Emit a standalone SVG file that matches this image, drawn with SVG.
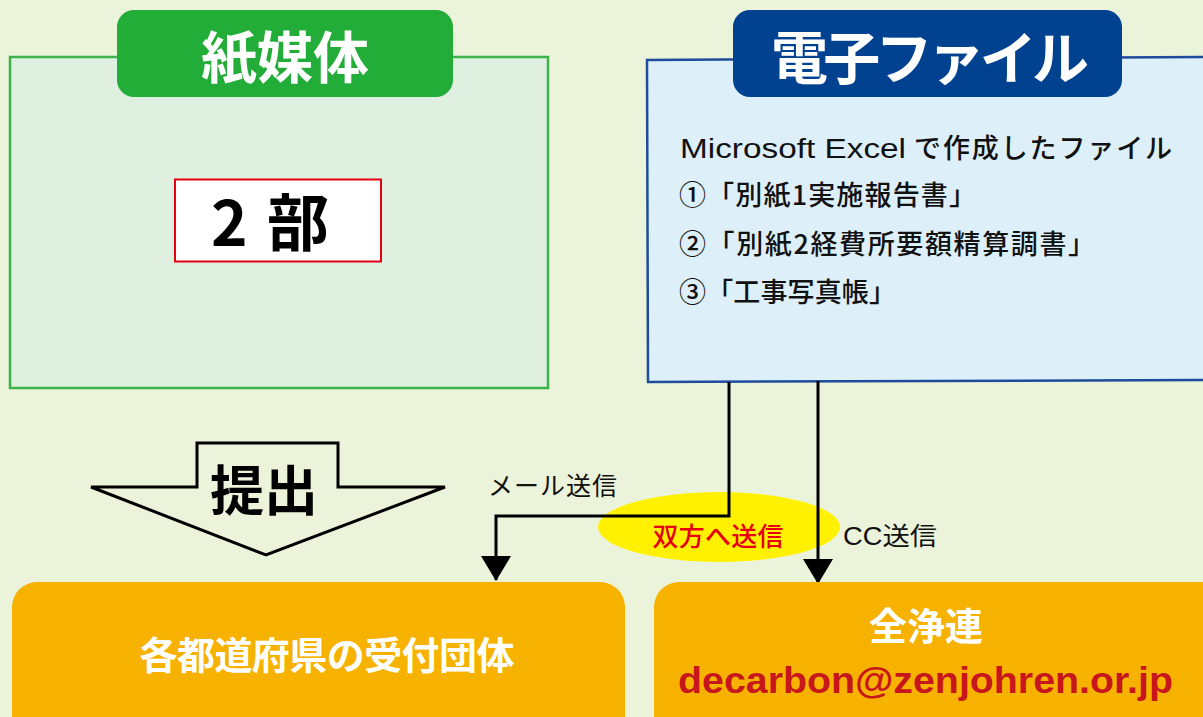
<svg xmlns="http://www.w3.org/2000/svg" width="1203" height="717" viewBox="0 0 1203 717">
<defs>
<style>
.jp{font-family:"Noto Sans CJK JP","Noto Sans CJK SC",sans-serif}
.lat{font-family:"Liberation Sans","Noto Sans CJK JP",sans-serif}
.wb{fill:#ffffff;font-weight:bold}
.item{font-size:27px;fill:#111111;font-weight:500}
.lbl{font-size:25px;fill:#111111}
.conn{fill:none;stroke:#000000;stroke-width:3}
</style>
<marker id="arr" viewBox="0 0 25 30" refX="24" refY="15" markerWidth="25" markerHeight="30" markerUnits="userSpaceOnUse" orient="auto">
<path d="M0,0 L25,15 L0,30 Z" fill="#000000"/>
</marker>
</defs>
<rect x="0" y="0" width="1203" height="717" fill="#EBF4DA"/>

<g id="paper">
<rect x="10" y="57" width="538" height="331" fill="#DFEFE0" stroke="#3BB34A" stroke-width="2.5"/>
<rect x="117" y="10" width="336" height="87" rx="17" fill="#22AC38"/>
<text class="jp wb" x="285" y="78" font-size="56" text-anchor="middle">紙媒体</text>
<rect x="175" y="179.5" width="206" height="82" fill="#ffffff" stroke="#E60012" stroke-width="2"/>
<text class="jp" x="270" y="246" font-size="62" font-weight="bold" text-anchor="middle" fill="#000000" textLength="118" lengthAdjust="spacing">2 部</text>
</g>

<g id="electronic">
<polygon points="647,60 1205,57 1205,380 648,382" fill="#DDEFF9" stroke="#1E4C9A" stroke-width="2.5"/>
<rect x="733" y="10" width="389" height="87" rx="17" fill="#004190"/>
<text class="jp wb" x="930" y="79" font-size="57" text-anchor="middle" textLength="318" lengthAdjust="spacing">電子ファイル</text>
<text class="lat item" x="680" y="158" font-size="28" textLength="226" lengthAdjust="spacingAndGlyphs">Microsoft Excel</text>
<text class="jp item" x="914" y="158" textLength="258" lengthAdjust="spacing">で作成したファイル</text>
<text class="jp item" x="679" y="205" textLength="297" lengthAdjust="spacing">①「別紙1実施報告書」</text>
<text class="jp item" x="679" y="254" textLength="416" lengthAdjust="spacing">②「別紙2経費所要額精算調書」</text>
<text class="jp item" x="679" y="302" textLength="217" lengthAdjust="spacing">③「工事写真帳」</text>
</g>

<g id="submit">
<polygon points="91,487 197,487 197,443 338,443 338,487 445,487 266,555" fill="none" stroke="#000000" stroke-width="3" stroke-linejoin="miter"/>
<text class="jp" x="264" y="511" font-size="54" font-weight="bold" text-anchor="middle" fill="#000000">提出</text>
</g>

<g id="both-label">
<ellipse cx="719" cy="527" rx="121" ry="35" fill="#FFF100"/>
</g>

<g id="connectors">
<polyline class="conn" points="729,382 729,516 496,516 496,580" marker-end="url(#arr)"/>
<line class="conn" x1="818" y1="381" x2="818" y2="583" marker-end="url(#arr)"/>
</g>

<g id="labels">
<text class="jp" x="718" y="546" font-size="26" font-weight="500" text-anchor="middle" fill="#E60012" textLength="131" lengthAdjust="spacing">双方へ送信</text>
<text class="jp lbl" x="488" y="495" textLength="129" lengthAdjust="spacing">メール送信</text>
<text class="lat lbl" x="843" y="545" textLength="94" lengthAdjust="spacingAndGlyphs">CC送信</text>
</g>

<g id="prefecture">
<rect x="12" y="582" width="613" height="160" rx="25" fill="#F7B200"/>
<text class="jp wb" x="327" y="669" font-size="38" text-anchor="middle" textLength="375" lengthAdjust="spacing">各都道府県の受付団体</text>
</g>

<g id="zenjoren">
<rect x="654" y="582" width="580" height="160" rx="25" fill="#F7B200"/>
<text class="jp wb" x="926" y="640" font-size="38" text-anchor="middle">全浄連</text>
<text class="lat" x="678" y="693" font-size="36" font-weight="bold" fill="#C8161D" textLength="495" lengthAdjust="spacingAndGlyphs">decarbon@zenjohren.or.jp</text>
</g>
</svg>
